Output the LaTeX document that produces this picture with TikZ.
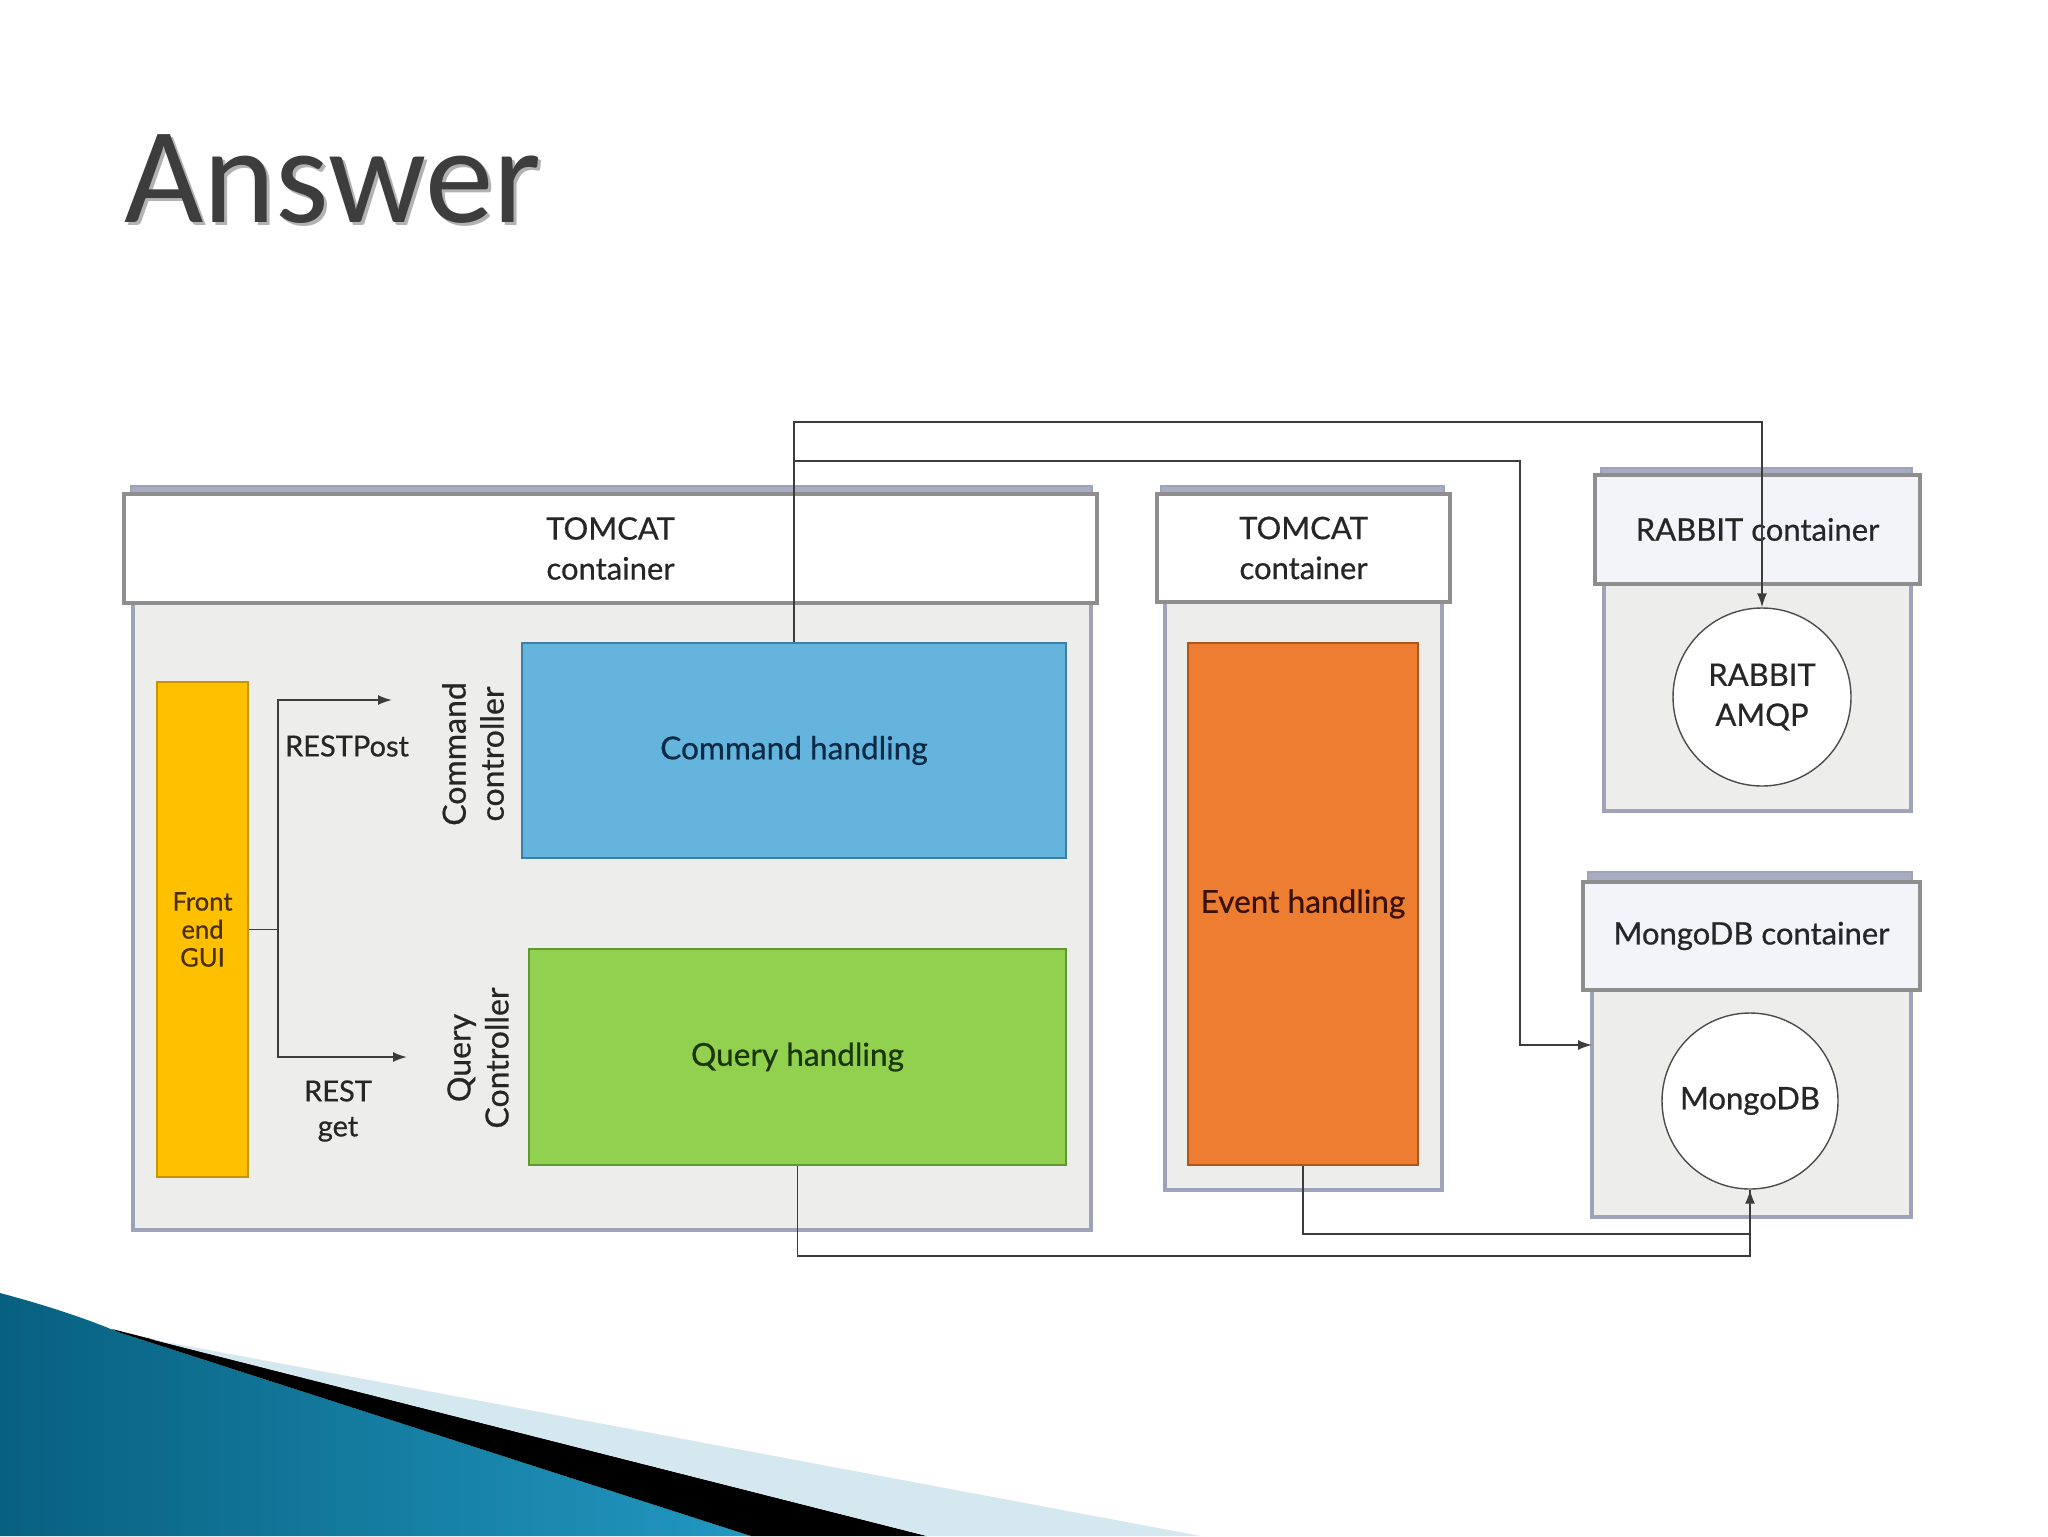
\documentclass[tikz,border=0pt]{standalone}
\usepackage{fontspec}
\setmainfont{Lato}[FakeBold=0.6]
\newfontfamily\titlefont{Carlito}
\usetikzlibrary{arrows.meta}
\definecolor{hdrborder}{HTML}{8E8E8E}
\definecolor{bodyborder}{HTML}{9EA3B9}
\definecolor{lidcol}{HTML}{A8ACC2}
\definecolor{bodyfill}{HTML}{EDEDEB}
\definecolor{lavender}{HTML}{F3F3FA}
\definecolor{guiyellow}{HTML}{FFC000}
\definecolor{guiborder}{HTML}{C89400}
\definecolor{guitext}{HTML}{4A3000}
\definecolor{cmdblue}{HTML}{65B4DE}
\definecolor{cmdborder}{HTML}{3E7FA6}
\definecolor{cmdtext}{HTML}{0B2A45}
\definecolor{qrygreen}{HTML}{92D050}
\definecolor{qryborder}{HTML}{5E9A30}
\definecolor{qrytext}{HTML}{1B3608}
\definecolor{evtorange}{HTML}{ED7D31}
\definecolor{evtborder}{HTML}{B0561B}
\definecolor{evttext}{HTML}{3A1205}
\definecolor{linecol}{HTML}{3C3C3C}
\definecolor{titlecol}{HTML}{3D3D3D}
\definecolor{decdark}{HTML}{07607F}
\definecolor{decmid}{HTML}{5FC2E2}
\definecolor{decright}{HTML}{2298C2}
\definecolor{declight}{HTML}{D5E7EF}
\tikzset{
  txt/.style={font=\fontsize{15.5}{20}\selectfont, text=black!85, align=center},
  hdr/.style={draw=hdrborder, line width=2pt, fill=white, inner sep=0pt, txt},
  hdrl/.style={hdr, fill=lavender},
  body/.style={draw=bodyborder, line width=2pt, fill=bodyfill, inner sep=0pt},
  lid/.style={fill=lidcol, draw=bodyborder, line width=0.6pt},
  inner/.style={line width=1pt, inner sep=0pt, align=center, font=\fontsize{15.8}{20}\selectfont},
  dbcircle/.style={circle, draw=black!70, line width=0.7pt, fill=white, inner sep=0pt, txt},
  conn/.style={draw=linecol, line width=0.9pt},
  arr/.style={conn, -{Latex[length=7pt,width=5pt]}},
  lbl/.style={txt, inner sep=0pt}
}
\begin{document}
\begin{tikzpicture}[x=0.5pt,y=-0.5pt]
\useasboundingbox (0,0) rectangle (2048,1536);
\fill[white] (0,0) rectangle (2048,1536);

% title
\node[anchor=base west, inner sep=0pt, text=black!30, font=\titlefont\fontsize{68.5}{72}\selectfont] (titleshadow) at (127,225) {Answer};
\node[anchor=base west, inner sep=0pt, text=titlecol, font=\titlefont\fontsize{68.5}{72}\selectfont] (title) at (124,222) {Answer};

% decoration bottom-left
\shade[left color=decdark, middle color=decmid, right color=decright]
  (0,1293) .. controls (45,1305) and (85,1318) .. (118,1332) -- (751,1536) -- (0,1536) -- cycle;
\fill[black] (112,1329) -- (927,1536) -- (751,1536) -- (118,1332) -- cycle;
\fill[declight] (150,1339) -- (1201,1536) -- (927,1536) -- cycle;

% big TOMCAT container
\fill[lid] (131,486) rectangle (1092,496);
\node[body, minimum width=479pt, minimum height=313.5pt] (tc1b) at (612,916.5) {};
\node[hdr, minimum width=486.5pt, minimum height=54.5pt] (tc1h) at (610.5,548.5) {TOMCAT\\container};

% second TOMCAT container
\fill[lid] (1161,486) rectangle (1444,494);
\node[body, minimum width=138.5pt, minimum height=294pt] (tc2b) at (1303.5,896) {};
\node[hdr, minimum width=146.5pt, minimum height=54pt] (tc2h) at (1303.5,548) {TOMCAT\\container};

% RABBIT container
\fill[lid] (1601,468) rectangle (1912,477);
\node[body, minimum width=153.5pt, minimum height=113.5pt] (rbb) at (1757.5,697.5) {};
\node[hdrl, minimum width=162.5pt, minimum height=54.5pt] (rbh) at (1757.5,529.5) {RABBIT container};

% MongoDB container
\fill[lid] (1588,872) rectangle (1912,882);
\node[body, minimum width=159.5pt, minimum height=113.5pt] (mgb) at (1751.5,1103.5) {};
\node[hdrl, minimum width=168.5pt, minimum height=54pt] (mgh) at (1751.5,936) {MongoDB container};

% inner boxes
\node[inner, draw=guiborder, fill=guiyellow, text=guitext, font=\fontsize{12.8}{14}\selectfont,
      minimum width=45.5pt, minimum height=247.5pt] (gui) at (202.5,929.5) {Front\\end\\GUI};
\node[inner, draw=cmdborder, fill=cmdblue, text=cmdtext, minimum width=272pt, minimum height=107.5pt] (cmd) at (794,750.5) {Command handling};
\node[inner, draw=qryborder, fill=qrygreen, text=qrytext, minimum width=268.5pt, minimum height=108pt] (qry) at (797.5,1057) {Query handling};
\node[inner, draw=evtborder, fill=evtorange, text=evttext, minimum width=115pt, minimum height=261pt] (evt) at (1303,904) {Event handling};

\node[dbcircle, minimum size=89pt] (rbc) at (1762,697) {RABBIT\\AMQP};
\node[dbcircle, minimum size=88pt] (mgc) at (1750,1101) {MongoDB};

% labels
\node[lbl, font=\fontsize{14.5}{19.5}\selectfont] (postlbl) at (347,746) {RESTPost};
\node[lbl, font=\fontsize{14.5}{17.5}\selectfont] (getlbl) at (338,1111) {REST\\get};
\node[lbl, font=\fontsize{16}{19}\selectfont, rotate=90] (cmdctl) at (473,754) {Command\\controller};
\node[lbl, font=\fontsize{16}{19}\selectfont, rotate=90] (qryctl) at (478,1058) {Query\\Controller};

% front-end connectors
\coordinate (fj) at (278,929.5);
\coordinate (postend) at (392,700);
\coordinate (getend) at (407,1057);
\draw[conn] (gui.east) -- (fj);
\draw[arr] (fj) |- (postend);
\draw[arr] (fj) |- (getend);

% command -> rabbit
\coordinate (topy) at (0,422);
\coordinate (j1) at (794,461);
\coordinate (bend1) at (1520,461);
\coordinate (mgin) at (1592,1045);
\draw[arr] (cmd.north) -- (cmd.north |- topy) -| (rbc.north);
\draw[arr] (j1) -- (bend1) |- (mgin);

% to MongoDB from below
\coordinate (evty) at (0,1234);
\coordinate (qryy) at (0,1256);
\draw[conn] (evt.south) -- (evt.south |- evty) -| (mgc.south);
\draw[arr] (qry.south) -- (qry.south |- qryy) -| (mgc.south);
\end{tikzpicture}
\end{document}
